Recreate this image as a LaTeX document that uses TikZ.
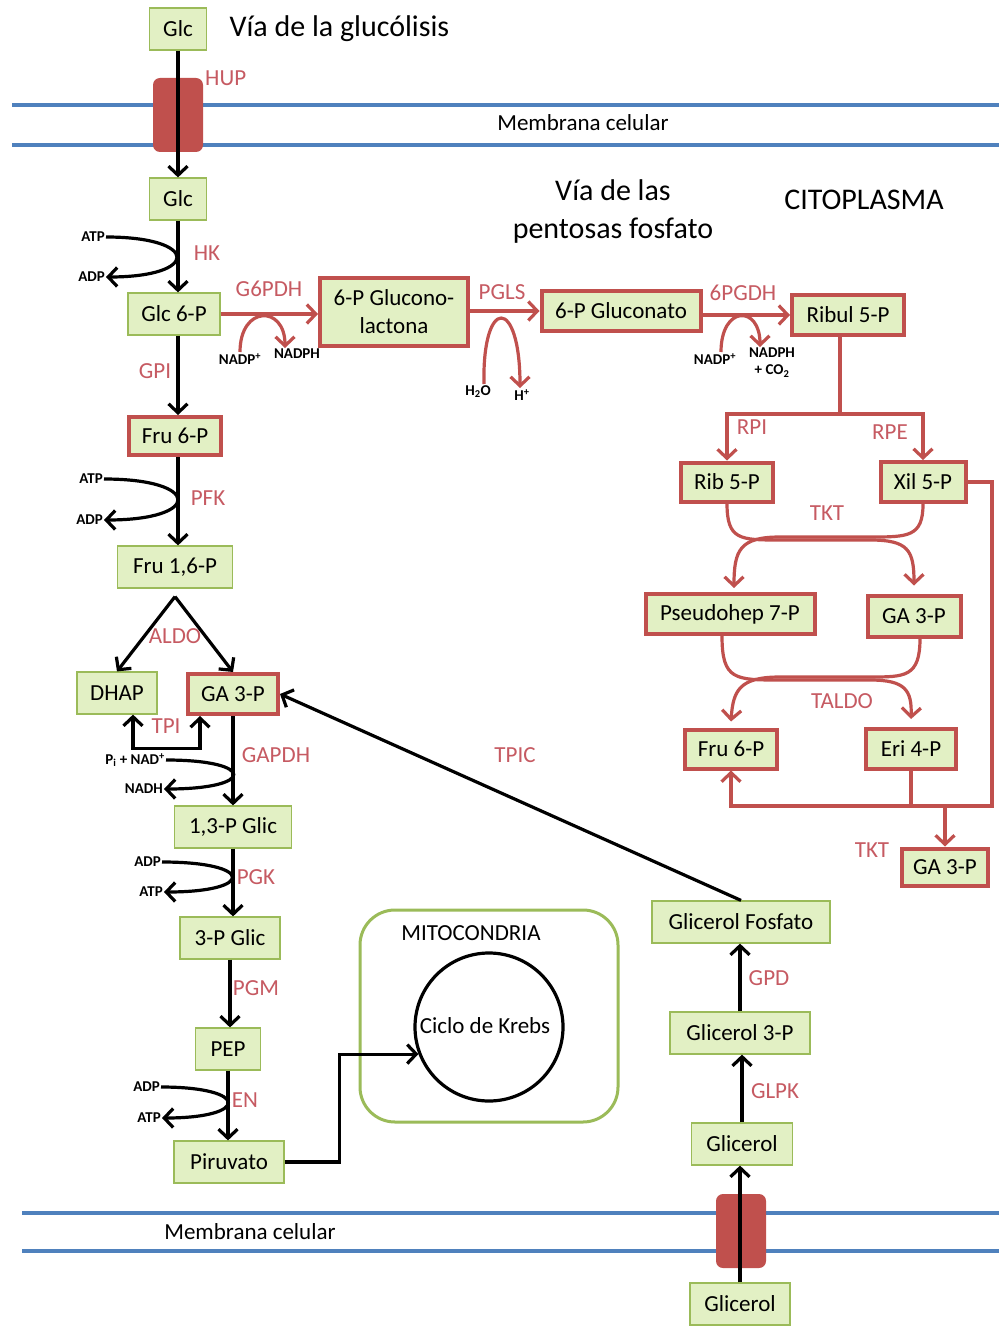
\documentclass[tikz,border=0pt]{standalone}
\usepackage{fontspec}
\setmainfont{Carlito}
\usetikzlibrary{positioning,arrows.meta}
\definecolor{leafgreen}{HTML}{9BBB59}
\definecolor{leaffill}{HTML}{E2F0C4}
\definecolor{pathred}{HTML}{C0504D}
\definecolor{enzred}{HTML}{C65A62}
\definecolor{membblue}{HTML}{4F81BD}

\begin{document}
\begin{tikzpicture}[
    x=1pt,y=-1pt,
    met/.style={rectangle,draw=leafgreen,fill=leaffill,line width=1.2pt,minimum height=42pt,
      inner sep=0pt,align=center,font=\fontsize{23}{28}\selectfont},
    pmet/.style={met,draw=pathred,line width=4pt},
    enz/.style={text=enzred,inner sep=1pt,font=\fontsize{23}{25}\selectfont},
    cof/.style={inner sep=1pt,align=center,font=\fontsize{15}{17}\selectfont\bfseries},
    flow/.style={-{Straight Barb[length=9pt,width=19pt]},line width=3.2pt},
    pflow/.style={-{Straight Barb[length=9pt,width=19pt]},line width=3.2pt,draw=pathred},
    pline/.style={line width=3.2pt,draw=pathred},
    memb/.style={line width=3.2pt,membblue},
    transp/.style={rectangle,rounded corners=7pt,fill=pathred,minimum width=50pt,minimum height=74pt},
    title/.style={align=center,font=\fontsize{30}{38}\selectfont},
    plain/.style={font=\fontsize{23}{25}\selectfont}
  ]
    \fill[white] (0,0) rectangle (999,1329);
    \useasboundingbox (0,0) rectangle (999,1329);
    % Membranes and transporters
    \draw[memb] (12,105) -- (999,105);
    \draw[memb] (12,145) -- (999,145);
    \draw[memb] (22,1213) -- (999,1213);
    \draw[memb] (22,1251) -- (999,1251);
    \node[plain] (membtop) at (583,123) {Membrana celular};
    \node[plain] (membbot) at (250,1232) {Membrana celular};
    \node[transp] (hup) at (178,115) {};
    \node[transp] (glytr) at (741,1231) {};
    % Titles
    \node[title,anchor=west] (tglu) at (226,29) {Vía de la glucólisis};
    \node[title] (tpen) at (613,212) {Vía de las\\pentosas fosfato};
    \node[title] (tcito) at (864,200) {CITOPLASMA};
    % Glycolysis
    \node[met,minimum width=57pt] (glcout) at (178,29) {Glc};
    \node[met,minimum width=57pt] (glc) at (178,199) {Glc};
    \node[met,minimum width=92pt] (g6p) at (174,314) {Glc 6-P};
    \node[pmet,minimum width=92pt,minimum height=38pt] (fru6) at (175,436) {Fru 6-P};
    \node[met,minimum width=115pt] (fru16) at (175,567) {Fru 1,6-P};
    \node[met,minimum width=80pt] (dhap) at (117,693) {DHAP};
    \node[pmet,minimum width=90pt,minimum height=40pt] (ga3p) at (233,694) {GA 3-P};
    \node[met,minimum width=117pt] (g13) at (233,827) {1,3-P Glic};
    \node[met,minimum width=100pt] (g3p) at (230,938) {3-P Glic};
    \node[met,minimum width=65pt] (pep) at (228,1049) {PEP};
    \node[met,minimum width=110pt] (pir) at (229,1162) {Piruvato};
    \draw[flow] (glcout) -- (glc);
    \draw[flow] (glc.south) -- (glc.south |- g6p.north);
    \draw[flow] (g6p.south -| glc.south) -- (glc.south |- fru6.north);
    \draw[flow] (fru6.south -| glc.south) -- (glc.south |- fru16.north);
    \draw[flow] ([yshift=-8pt]fru16.south) -- (dhap.north);
    \draw[flow] ([yshift=-8pt]fru16.south) -- (ga3p.north);
    \draw[{Straight Barb[length=9pt,width=19pt]}-{Straight Barb[length=9pt,width=19pt]},line width=3.2pt]
      ([xshift=16pt]dhap.south) -- ++(0,34) -| ([xshift=-33pt]ga3p.south);
    \draw[flow] (ga3p) -- (g13);
    \draw[flow] (g13.south) -- (g13.south |- g3p.north);
    \draw[flow] (g3p.south) -- (g3p.south |- pep.north);
    \draw[flow] (pep.south) -- (pep.south |- pir.north);
    % Cofactors
    \node[cof,anchor=east] (atp1) at (106,237) {ATP};
    \node[cof,anchor=east] (adp1) at (106,277) {ADP};
    \draw[flow] (atp1.east) .. controls (200,237) and (200,277) .. (adp1.east);
    \node[cof,anchor=east] (atp2) at (104,479) {ATP};
    \node[cof,anchor=east] (adp2) at (104,520) {ADP};
    \draw[flow] (atp2.east) .. controls (202,479) and (202,520) .. (adp2.east);
    \node[cof,anchor=east] (pinad) at (166,760) {P\textsubscript{i} + NAD\textsuperscript{+}};
    \node[cof,anchor=east] (nadh) at (164,789) {NADH};
    \draw[flow] (pinad.east) .. controls (256,760) and (256,789) .. (nadh.east);
    \node[cof,anchor=east] (adp3) at (162,862) {ADP};
    \node[cof,anchor=east] (atp3) at (164,892) {ATP};
    \draw[flow] (adp3.east) .. controls (255,862) and (255,892) .. (atp3.east);
    \node[cof,anchor=east] (adp4) at (161,1087) {ADP};
    \node[cof,anchor=east] (atp4) at (162,1118) {ATP};
    \draw[flow] (adp4.east) .. controls (250,1087) and (250,1118) .. (atp4.east);
    % Enzymes
    \node[enz,anchor=west] (hupl) at (204,78) {HUP};
    \node[enz] (hk) at (207,253) {HK};
    \node[enz] (gpi) at (155,371) {GPI};
    \node[enz] (pfk) at (208,498) {PFK};
    \node[enz] (aldo) at (175,636) {ALDO};
    \node[enz] (tpi) at (166,726) {TPI};
    \node[enz] (gapdh) at (276,755) {GAPDH};
    \node[enz] (pgk) at (256,877) {PGK};
    \node[enz] (pgm) at (256,988) {PGM};
    \node[enz] (en) at (245,1100) {EN};
    % Mitochondria
    \node[draw=leafgreen,line width=3pt,rounded corners=35pt,minimum width=258pt,minimum height=212pt]
      (mito) at (489,1016) {};
    \node[plain] (mitol) at (471,933) {MITOCONDRIA};
    \node[circle,draw,line width=3.2pt,minimum size=148pt] (krebs) at (489,1027) {};
    \node[plain] (krebsl) at (485,1026) {Ciclo de Krebs};
    \draw[flow] (pir.east) -- ++(55,0) |- (krebs.201);
    % Glycerol
    \node[met,minimum width=100pt] (glyout) at (740,1304) {Glicerol};
    \node[met,minimum width=101pt] (glyc) at (742,1144) {Glicerol};
    \node[met,minimum width=140pt] (gly3p) at (740,1033) {Glicerol 3-P};
    \node[met,minimum width=178pt] (glfos) at (741,922) {Glicerol Fosfato};
    \draw[flow] (glyout.north) -- (glyout.north |- glyc.south);
    \draw[flow] (glyc.north) -- (glyc.north |- gly3p.south);
    \draw[flow] (gly3p.north) -- (gly3p.north |- glfos.south);
    \draw[flow] (glfos.north) -- (ga3p.east);
    \node[enz] (glpk) at (775,1091) {GLPK};
    \node[enz] (gpd) at (769,978) {GPD};
    \node[enz] (tpic) at (515,755) {TPIC};
    % Pentose phosphate
    \node[pmet,minimum width=148pt,minimum height=67pt] (glac) at (394,312) {6-P Glucono-\\lactona};
    \node[pmet,minimum width=159pt,minimum height=39pt] (glcn) at (621,311) {6-P Gluconato};
    \node[pmet,minimum width=112pt,minimum height=40pt] (ribul) at (848,315) {Ribul 5-P};
    \node[pmet,minimum width=92pt,minimum height=39pt] (rib5) at (727,482) {Rib 5-P};
    \node[pmet,minimum width=85pt,minimum height=40pt] (xil5) at (923,482) {Xil 5-P};
    \node[pmet,minimum width=169pt,minimum height=40pt] (pseudo) at (730,614) {Pseudohep 7-P};
    \node[pmet,minimum width=93pt,minimum height=41pt] (ga3pr) at (914,616) {GA 3-P};
    \node[pmet,minimum width=92pt,minimum height=39pt] (fru6r) at (731,749) {Fru 6-P};
    \node[pmet,minimum width=90pt,minimum height=40pt] (eri4) at (911,749) {Eri 4-P};
    \node[pmet,minimum width=86pt,minimum height=37pt] (ga3pb) at (945,867) {GA 3-P};
    \draw[pflow] (g6p.east) -- (g6p.east -| glac.west);
    \draw[pflow] (glac.east |- glcn.west) -- (glcn.west);
    \draw[pflow] (glcn.east |- ribul.west) -- (ribul.west);
    \node[cof,anchor=north] (nadp1) at (240,352) {NADP\textsuperscript{+}};
    \node[cof,anchor=north] (nadph1) at (297,348) {NADPH};
    \draw[pflow] (nadp1.north) .. controls (240,305) and (285,305) .. ([xshift=-12pt]nadph1.north);
    \node[cof,anchor=north] (h2o) at (478,384) {H\textsubscript{2}O};
    \node[cof,anchor=north] (hplus) at (522,388) {H\textsuperscript{+}};
    \draw[pflow] ([xshift=6pt]h2o.north) .. controls (482,296) and (520,296) .. ([xshift=-2pt]hplus.north);
    \node[cof,anchor=north] (nadp2) at (715,352) {NADP\textsuperscript{+}};
    \node[cof,anchor=north] (nadph2) at (772,347) {NADPH\\+ CO\textsubscript{2}};
    \draw[pflow] ([xshift=6pt]nadp2.north) .. controls (721,305) and (760,305) .. ([xshift=-12pt]nadph2.north);
    \coordinate (split) at (840,414);
    \draw[pline] (ribul.south -| split) -- (split);
    \draw[pflow] (split) -| (rib5.north);
    \draw[pflow] (split) -| (xil5.north);
    % TKT and TALDO
    \draw[pflow] (rib5.south) .. controls (727,540) and (740,540) .. (780,540) -- (870,540)
      .. controls (908,540) and (914,550) .. ([yshift=8pt]ga3pr.north);
    \draw[pflow] (xil5.south) .. controls (923,537) and (908,537) .. (870,537) -- (780,537)
      .. controls (740,537) and (734,550) .. ([xshift=4pt,yshift=4pt]pseudo.north);
    \draw[pflow] ([xshift=-8pt]pseudo.south) .. controls (722,680) and (735,680) .. (780,680) -- (870,680)
      .. controls (905,680) and (912,690) .. ([yshift=8pt]eri4.north);
    \draw[pflow] ([xshift=6pt]ga3pr.south) .. controls (920,677) and (905,677) .. (870,677) -- (780,677)
      .. controls (740,677) and (733,690) .. ([yshift=6pt]fru6r.north);
    \coordinate (tktr) at (992,806);
    \draw[pflow] (xil5.east) -| (tktr) -| (fru6r.south);
    \draw[pline] (eri4.south) -- (eri4.south |- tktr);
    \draw[pflow] (ga3pb.north |- tktr) -- (ga3pb.north);
    \node[enz] (g6pdh) at (269,289) {G6PDH};
    \node[enz] (pgls) at (502,292) {PGLS};
    \node[enz] (pgdh) at (743,293) {6PGDH};
    \node[enz] (rpi) at (752,427) {RPI};
    \node[enz] (rpe) at (890,432) {RPE};
    \node[enz] (tkt1) at (827,513) {TKT};
    \node[enz] (taldo) at (842,701) {TALDO};
    \node[enz] (tkt2) at (872,850) {TKT};
  \end{tikzpicture}
\end{document}
